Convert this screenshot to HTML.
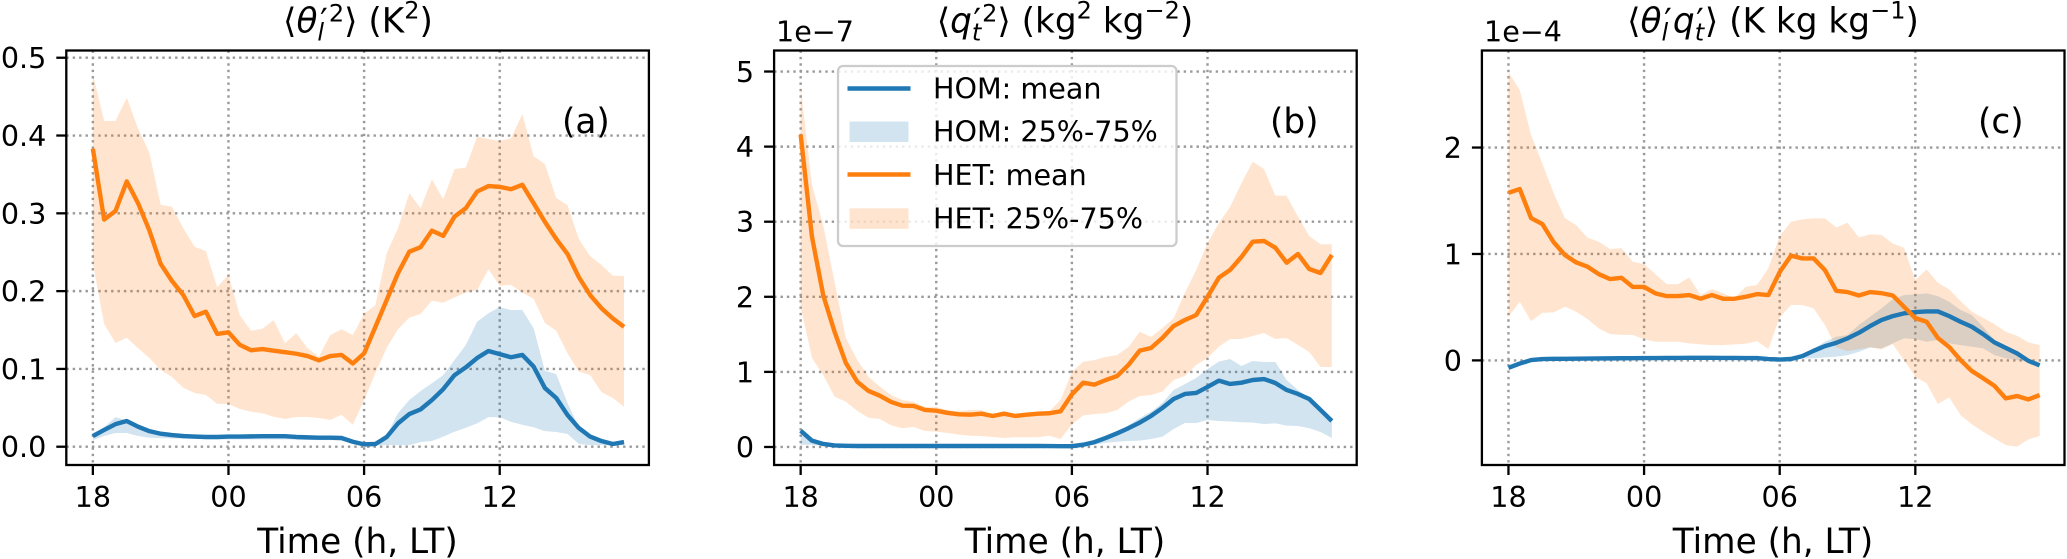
<!DOCTYPE html>
<html lang="en">
<head>
<meta charset="utf-8">
<title>Variance and covariance time series</title>
<style>
html,body{margin:0;padding:0;background:#fff;}
svg{display:block;}
text{font-family:"DejaVu Sans","Liberation Sans",sans-serif;fill:#000;}
.tick{font-size:28.6px;}
.label{font-size:34.3px;}
.title{font-size:34.3px;}
.legend-text{font-size:28.6px;}
</style>
</head>
<body>
<svg id="figure" xmlns="http://www.w3.org/2000/svg" width="2067" height="559" viewBox="0 0 2067 559">
  <rect width="2067" height="559" fill="#ffffff"/>
  <g id="panel-a"></g>
  <g id="panel-b"></g>
  <g id="panel-c"></g>

  <text class="title" x="358" y="32.5" text-anchor="middle">⟨<tspan font-style="italic">θ</tspan><tspan font-size="24" dy="8" font-style="italic">l</tspan><tspan font-size="34" dy="-8" dx="-4">′</tspan><tspan font-size="24" dy="-11" dx="1">2</tspan><tspan dy="11">⟩ (K</tspan><tspan font-size="24" dy="-14">2</tspan><tspan dy="14">)</tspan></text>
  <text class="title" x="1065" y="32.5" text-anchor="middle">⟨<tspan font-style="italic">q</tspan><tspan font-size="24" dy="8" font-style="italic">t</tspan><tspan font-size="34" dy="-8" dx="-8">′</tspan><tspan font-size="24" dy="-11" dx="1">2</tspan><tspan dy="11">⟩ (kg</tspan><tspan font-size="24" dy="-14">2</tspan><tspan dy="14"> kg</tspan><tspan font-size="24" dy="-14">−2</tspan><tspan dy="14">)</tspan></text>
  <text class="title" x="1773" y="32.5" text-anchor="middle">⟨<tspan font-style="italic">θ</tspan><tspan font-size="24" dy="8" font-style="italic">l</tspan><tspan font-size="34" dy="-8" dx="-4">′</tspan><tspan font-style="italic" dx="1">q</tspan><tspan font-size="24" dy="8" font-style="italic">t</tspan><tspan font-size="34" dy="-8" dx="-8">′</tspan><tspan dx="1">⟩ (K kg kg</tspan><tspan font-size="24" dy="-14">−1</tspan><tspan dy="14">)</tspan></text>

  <text class="tick" x="776" y="41.5">1e−7</text>
  <text class="tick" x="1484" y="41.5">1e−4</text>

  <text class="label" x="357.5" y="553" text-anchor="middle">Time (h, LT)</text>
  <text class="label" x="1065" y="553" text-anchor="middle">Time (h, LT)</text>
  <text class="label" x="1773" y="553" text-anchor="middle">Time (h, LT)</text>

  <text class="label" x="562" y="133">(a)</text>
  <text class="label" x="1270" y="133">(b)</text>
  <text class="label" x="1978" y="133">(c)</text>

  <g id="legend">
    <rect x="838" y="66" width="338.5" height="180" rx="5" ry="5" fill="#ffffff" fill-opacity="0.8" stroke="#cccccc" stroke-width="2.3"/>
    <line x1="847.5" x2="910.5" y1="88.5" y2="88.5" stroke="#1f77b4" stroke-width="4.4"/>
    <text class="legend-text" x="933" y="98.5">HOM: mean</text>
    <rect x="849.5" y="121.5" width="59" height="20.5" fill="#1f77b4" fill-opacity="0.2"/>
    <text class="legend-text" x="933" y="141.7">HOM: 25%-75%</text>
    <line x1="847.5" x2="910.5" y1="174.5" y2="174.5" stroke="#ff7f0e" stroke-width="4.4"/>
    <text class="legend-text" x="933" y="185">HET: mean</text>
    <rect x="849.5" y="208.3" width="59" height="20.5" fill="#ff7f0e" fill-opacity="0.2"/>
    <text class="legend-text" x="933" y="228.3">HET: 25%-75%</text>
  </g>
</svg>
<script>
// Shared x-axis categories: half-hour steps since 18 LT
const timeHours = [0,0.5,1,1.5,2,2.5,3,3.5,4,4.5,5,5.5,6,6.5,7,7.5,8,8.5,9,9.5,10,10.5,11,11.5,12,12.5,13,13.5,14,14.5,15,15.5,16,16.5,17,17.5,18,18.5,19,19.5,20,20.5,21,21.5,22,22.5,23,23.5];
const xTickHours = [0,6,12,18];
const xTickLabels = ["18","00","06","12"];

// Panel (a)
const yTicksA = [0,0.1,0.2,0.3,0.4,0.5];
const yTickLabelsA = ["0.0","0.1","0.2","0.3","0.4","0.5"];
const homMeanA = [.0137,.0215,.029,.033,.0257,.02,.0167,.015,.0137,.013,.0125,.0125,.013,.013,.0133,.0135,.0135,.0135,.0125,.012,.0116,.0116,.0112,.0064,.003,.0035,.0125,.03,.042,.048,.06,.074,.092,.102,.114,.123,.119,.115,.118,.103,.0754,.0626,.0407,.024,.013,.0073,.0035,.006];
const homUpperA = [.0145,.025,.038,.034,.0266,.0215,.019,.0176,.0168,.015,.0145,.0145,.0145,.0148,.015,.015,.015,.015,.014,.0135,.013,.013,.0125,.008,.004,.0035,.015,.043,.06,.0716,.0815,.092,.1114,.1307,.1607,.1716,.1795,.1757,.1757,.1523,.0977,.0934,.056,.0257,.0137,.0086,.0047,.0064];
const homLowerA = [.0086,.0137,.0176,.0176,.0137,.0116,.011,.0105,.0102,.01,.0098,.0095,.0095,.0095,.0095,.0095,.0095,.0095,.009,.009,.0085,.0085,.008,.004,.001,.002,.002,.002,.002,.006,.0073,.0129,.0193,.0244,.03,.038,.038,.032,.0283,.025,.02,.019,.0163,.0035,.002,.002,.002,.002];
const hetMeanA = [.383,.292,.303,.341,.313,.278,.235,.213,.195,.168,.1735,.145,.147,.131,.124,.1255,.1235,.1215,.1195,.1165,.111,.1165,.118,.107,.12,.154,.1886,.223,.2507,.2565,.2777,.271,.2957,.3066,.328,.335,.334,.331,.3367,.313,.289,.267,.2477,.218,.195,.178,.165,.154];
const hetUpperA = [.479,.4186,.4186,.4486,.409,.378,.311,.3085,.281,.257,.2515,.205,.221,.169,.149,.1517,.1627,.133,.146,.1266,.1157,.1435,.151,.1435,.171,.182,.2487,.281,.326,.3066,.344,.318,.357,.3587,.3985,.3955,.393,.3967,.4275,.3736,.3633,.3197,.3106,.267,.245,.2335,.22,.2194];
const hetLowerA = [.236,.1577,.1333,.14,.1266,.114,.0986,.0896,.0758,.069,.0665,.055,.0549,.0484,.045,.043,.0386,.0356,.0382,.0382,.0369,.0343,.0411,.0283,.06,.0947,.127,.151,.166,.1706,.1877,.185,.192,.198,.2014,.228,.207,.208,.198,.19,.159,.149,.12,.0965,.092,.0703,.0626,.0514];

// Panel (b), values in units of 1e-7
const yTicksB = [0,1,2,3,4,5];
const yTickLabelsB = ["0","1","2","3","4","5"];
const homMeanB = [.217,.084,.04,.02,.015,.013,.013,.013,.013,.013,.013,.013,.013,.013,.013,.013,.013,.013,.013,.013,.013,.013,.012,.01,.01,.03,.065,.12,.182,.25,.324,.413,.519,.639,.706,.719,.799,.883,.839,.856,.892,.905,.852,.759,.706,.639,.493,.346];
const homUpperB = [.22,.09,.05,.03,.022,.018,.017,.017,.017,.017,.017,.017,.017,.017,.017,.017,.017,.017,.017,.017,.017,.017,.016,.014,.014,.035,.08,.13,.2,.29,.386,.47,.586,.759,.839,.919,1.039,1.136,1.172,1.079,1.145,1.132,1.132,.892,.759,.652,.493,.36];
const homLowerB = [.03,.03,.015,.01,.01,.01,.01,.01,.01,.01,.01,.01,.01,.01,.01,.01,.01,.01,.01,.01,.01,.01,.009,.007,.007,.01,.03,.057,.07,.08,.084,.106,.137,.24,.32,.32,.36,.346,.34,.33,.324,.306,.315,.284,.28,.25,.2,.12];
const hetMeanB = [4.16,2.80,2.02,1.535,1.118,.87,.746,.683,.60,.55,.546,.493,.483,.453,.435,.43,.443,.413,.443,.413,.43,.443,.449,.475,.70,.856,.83,.892,.945,1.092,1.283,1.318,1.451,1.611,1.691,1.758,2.0,2.254,2.357,2.53,2.734,2.743,2.654,2.454,2.57,2.37,2.317,2.557];
const hetUpperB = [4.8,3.49,2.95,2.2,1.45,1.16,.936,.803,.692,.626,.603,.53,.53,.493,.475,.493,.49,.42,.466,.44,.45,.46,.475,.626,1.0,1.135,1.158,1.2,1.225,1.33,1.535,1.465,1.585,1.715,2.054,2.357,2.716,2.98,3.2,3.51,3.8,3.7,3.346,3.346,3.07,2.81,2.7,2.7];
const hetLowerB = [1.87,1.185,.959,.67,.603,.483,.39,.373,.289,.249,.266,.213,.204,.186,.164,.15,.146,.133,.12,.129,.129,.129,.15,.106,.3,.42,.44,.449,.493,.603,.679,.692,.737,.892,.945,1.092,1.185,1.336,1.438,1.438,1.478,1.518,1.438,1.451,1.358,1.265,1.065,1.065];

// Panel (c), values in units of 1e-4
const yTicksC = [0,1,2];
const yTickLabelsC = ["0","1","2"];
const homMeanC = [-.07,-.03,.003,.012,.015,.015,.016,.017,.018,.019,.02,.021,.022,.022,.023,.023,.024,.024,.024,.023,.023,.022,.022,.012,.008,.013,.04,.09,.134,.165,.207,.259,.322,.379,.416,.442,.454,.46,.46,.416,.363,.316,.247,.169,.118,.066,-.004,-.047];
const homUpperC = [-.065,-.02,.012,.022,.025,.026,.027,.028,.029,.03,.031,.032,.033,.033,.034,.034,.035,.035,.035,.034,.034,.033,.032,.02,.012,.02,.05,.11,.175,.222,.238,.332,.41,.489,.573,.614,.62,.63,.604,.551,.473,.426,.316,.191,.134,.081,.003,-.047];
const homLowerC = [-.075,-.035,-.003,.005,.007,.008,.009,.01,.011,.012,.012,.013,.014,.014,.015,.015,.015,.015,.015,.014,.014,.013,.012,.006,.005,.009,.019,.019,.028,.034,.05,.08,.122,.112,.16,.207,.2,.175,.191,.16,.144,.128,.113,.05,.019,.003,-.013,-.05];
const hetMeanC = [1.575,1.61,1.337,1.281,1.11,.99,.92,.88,.81,.764,.776,.69,.69,.63,.604,.604,.614,.58,.614,.579,.579,.598,.623,.614,.83,.985,.958,.958,.849,.654,.642,.61,.642,.632,.61,.504,.397,.363,.21,.125,.003,-.1,-.168,-.239,-.357,-.335,-.367,-.326];
const hetUpperC = [2.71,2.54,2.117,1.85,1.57,1.337,1.27,1.152,1.115,1.046,1.055,.927,.905,.811,.717,.717,.78,.614,.67,.63,.588,.692,.708,.867,1.168,1.303,1.325,1.334,1.334,1.25,1.293,1.156,1.184,1.18,1.1,1.058,.755,.855,.729,.667,.557,.457,.4,.341,.269,.231,.169,.144];
const hetLowerC = [.41,.551,.369,.447,.451,.504,.457,.388,.3,.247,.24,.238,.2,.175,.175,.175,.16,.15,.144,.144,.15,.156,.181,.106,.404,.52,.52,.489,.332,.122,.087,.106,.122,.103,.153,.003,-.154,-.216,-.41,-.348,-.514,-.6,-.67,-.733,-.796,-.81,-.743,-.711];

const SVG_NS = "http://www.w3.org/2000/svg";
const HOM_COLOR = "#1f77b4";
const HET_COLOR = "#ff7f0e";
const GRID_COLOR = "#999999";

function svgEl(tag, parent) {
  const el = document.createElementNS(SVG_NS, tag);
  parent.appendChild(el);
  return el;
}

function linearScale(d0, d1, r0, r1) {
  return function (v) { return r0 + (v - d0) / (d1 - d0) * (r1 - r0); };
}

function drawPanel(cfg) {
  const g = document.getElementById(cfg.id);
  const left = cfg.left, right = cfg.left + 582.6, top = 50.5, bottom = 465;
  const xScale = linearScale(-1.175, 24.6, left, right);
  const yScale = linearScale(cfg.yMin, cfg.yMax, bottom, top);

  xTickHours.forEach(function (h, i) {
    const px = xScale(h);
    const gl = svgEl("line", g);
    
    
    gl.setAttribute("x1", px); gl.setAttribute("x2", px);
    gl.setAttribute("y1", top); gl.setAttribute("y2", bottom);
    gl.setAttribute("stroke", GRID_COLOR);
    gl.setAttribute("stroke-width", "2.4");
    gl.setAttribute("stroke-dasharray", "2.4 4");
    const tk = svgEl("line", g);
    
    
    tk.setAttribute("x1", px); tk.setAttribute("x2", px);
    tk.setAttribute("y1", bottom); tk.setAttribute("y2", bottom + 10);
    tk.setAttribute("stroke", "#000");
    tk.setAttribute("stroke-width", "2.3");
    const lb = svgEl("text", g);
    
    
    lb.setAttribute("class", "tick");
    lb.setAttribute("x", px);
    lb.setAttribute("y", 507);
    lb.setAttribute("text-anchor", "middle");
    lb.textContent = xTickLabels[i];
  });

  cfg.yTicks.forEach(function (v, i) {
    const py = yScale(v);
    const gl = svgEl("line", g);
    
    
    gl.setAttribute("x1", left); gl.setAttribute("x2", right);
    gl.setAttribute("y1", py); gl.setAttribute("y2", py);
    gl.setAttribute("stroke", GRID_COLOR);
    gl.setAttribute("stroke-width", "2.4");
    gl.setAttribute("stroke-dasharray", "2.4 4");
    const tk = svgEl("line", g);
    
    
    tk.setAttribute("x1", left - 10); tk.setAttribute("x2", left);
    tk.setAttribute("y1", py); tk.setAttribute("y2", py);
    tk.setAttribute("stroke", "#000");
    tk.setAttribute("stroke-width", "2.3");
    const lb = svgEl("text", g);
    
    
    lb.setAttribute("class", "tick");
    lb.setAttribute("x", left - 20);
    lb.setAttribute("y", py + 10.5);
    lb.setAttribute("text-anchor", "end");
    lb.textContent = cfg.yLabels[i];
  });

  function bandPoints(upper, lower) {
    const pts = [];
    timeHours.forEach(function (t, i) { pts.push(xScale(t).toFixed(2) + "," + yScale(upper[i]).toFixed(2)); });
    for (let i = timeHours.length - 1; i >= 0; i--) { pts.push(xScale(timeHours[i]).toFixed(2) + "," + yScale(lower[i]).toFixed(2)); }
    return pts.join(" ");
  }
  function linePoints(values) {
    return timeHours.map(function (t, i) { return xScale(t).toFixed(2) + "," + yScale(values[i]).toFixed(2); }).join(" ");
  }

  const homBand = svgEl("polygon", g);
  
  
  homBand.setAttribute("points", bandPoints(cfg.homUpper, cfg.homLower));
  homBand.setAttribute("fill", HOM_COLOR);
  homBand.setAttribute("fill-opacity", "0.2");

  const hetBand = svgEl("polygon", g);
  
  
  hetBand.setAttribute("points", bandPoints(cfg.hetUpper, cfg.hetLower));
  hetBand.setAttribute("fill", HET_COLOR);
  hetBand.setAttribute("fill-opacity", "0.2");

  const homLine = svgEl("polyline", g);
  
  
  homLine.setAttribute("points", linePoints(cfg.homMean));
  homLine.setAttribute("fill", "none");
  homLine.setAttribute("stroke", HOM_COLOR);
  homLine.setAttribute("stroke-width", "4.4");
  homLine.setAttribute("stroke-linejoin", "round");

  const hetLine = svgEl("polyline", g);
  
  
  hetLine.setAttribute("points", linePoints(cfg.hetMean));
  hetLine.setAttribute("fill", "none");
  hetLine.setAttribute("stroke", HET_COLOR);
  hetLine.setAttribute("stroke-width", "4.4");
  hetLine.setAttribute("stroke-linejoin", "round");

  const frame = svgEl("rect", g);
  
  
  frame.setAttribute("x", left);
  frame.setAttribute("y", top);
  frame.setAttribute("width", right - left);
  frame.setAttribute("height", bottom - top);
  frame.setAttribute("fill", "none");
  frame.setAttribute("stroke", "#000");
  frame.setAttribute("stroke-width", "2.3");
}

drawPanel({ id: "panel-a", left: 66.3, yMin: -0.0235, yMax: 0.5093, yTicks: yTicksA, yLabels: yTickLabelsA,
  homMean: homMeanA, homUpper: homUpperA, homLower: homLowerA, hetMean: hetMeanA, hetUpper: hetUpperA, hetLower: hetLowerA });
drawPanel({ id: "panel-b", left: 774.1, yMin: -0.24, yMax: 5.28, yTicks: yTicksB, yLabels: yTickLabelsB,
  homMean: homMeanB, homUpper: homUpperB, homLower: homLowerB, hetMean: hetMeanB, hetUpper: hetUpperB, hetLower: hetLowerB });
drawPanel({ id: "panel-c", left: 1481.9, yMin: -0.983, yMax: 2.912, yTicks: yTicksC, yLabels: yTickLabelsC,
  homMean: homMeanC, homUpper: homUpperC, homLower: homLowerC, hetMean: hetMeanC, hetUpper: hetUpperC, hetLower: hetLowerC });
</script>
</body>
</html>
